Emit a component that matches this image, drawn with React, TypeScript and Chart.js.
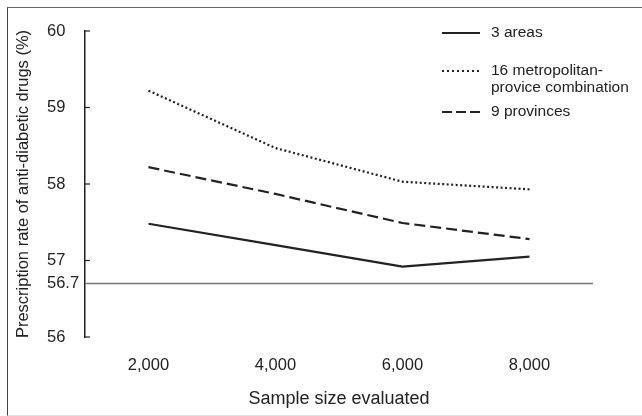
import React, { useEffect, useRef } from 'react';
import { Chart, registerables } from 'chart.js';

Chart.register(...registerables);

const sampleSizes = [2000, 4000, 6000, 8000];
const threeAreas = [57.48, 57.2, 56.92, 57.05];
const metroProvince = [59.22, 58.47, 58.03, 57.93];
const nineProvinces = [58.22, 57.87, 57.49, 57.28];
const yTickValues = [56, 56.7, 57, 58, 59, 60];
const yTickMarks = [56, 56.7, 57, 58, 59, 60];
const xTickValues = [2000, 4000, 6000, 8000];
const referenceValue = 56.7;
const seriesLabels = ['3 areas', '16 metropolitan-\nprovice combination', '9 provinces'];

const FONT = '"Liberation Sans", Arial, Helvetica, sans-serif';
const INK = '#222222';

const decorPlugin = {
  id: 'decor',
  beforeDatasetsDraw(chart: any) {
    const { ctx, chartArea, scales } = chart;
    const y = scales.y;
    ctx.save();
    const ry = y.getPixelForValue(referenceValue);
    ctx.strokeStyle = '#777777';
    ctx.lineWidth = 1.6;
    ctx.beginPath();
    ctx.moveTo(chartArea.left, ry);
    ctx.lineTo(chartArea.right, ry);
    ctx.stroke();
    ctx.strokeStyle = INK;
    ctx.lineWidth = 1.2;
    for (const v of yTickMarks) {
      if (v === referenceValue) continue;
      const py = y.getPixelForValue(v);
      ctx.beginPath();
      ctx.moveTo(chartArea.left, py);
      ctx.lineTo(chartArea.left + 5, py);
      ctx.stroke();
    }
    ctx.restore();
  },
  afterDraw(chart: any) {
    const { ctx, chartArea } = chart;
    const lx0 = chartArea.right - 151;
    const lx1 = chartArea.right - 113;
    const tx = chartArea.right - 102;
    const rows = [
      { ds: 0, y: chartArea.top + 2 },
      { ds: 1, y: chartArea.top + 40 },
      { ds: 2, y: chartArea.top + 81 },
    ];
    ctx.save();
    ctx.font = `15.5px ${FONT}`;
    ctx.fillStyle = INK;
    ctx.textBaseline = 'middle';
    ctx.textAlign = 'left';
    for (const r of rows) {
      ctx.strokeStyle = INK;
      ctx.lineWidth = 2;
      ctx.setLineDash(r.ds === 2 ? [10, 4] : r.ds === 1 ? [2, 3] : []);
      ctx.beginPath();
      ctx.moveTo(lx0, r.y);
      ctx.lineTo(lx1, r.y);
      ctx.stroke();
      ctx.setLineDash([]);
      const lines = String(seriesLabels[r.ds]).split('\n');
      lines.forEach((t, i) => ctx.fillText(t, tx, r.y + i * 17));
    }
    ctx.restore();
  },
};

export default function App() {
  const ref = useRef<HTMLCanvasElement | null>(null);

  useEffect(() => {
    if (!ref.current) return;
    const mk = (vals: number[]) => sampleSizes.map((s, i) => ({ x: s, y: vals[i] }));
    const chart = new Chart(ref.current, {
      type: 'line',
      data: {
        datasets: [
          { label: seriesLabels[0], data: mk(threeAreas), borderColor: INK, borderWidth: 2.2, pointRadius: 0, tension: 0, borderDash: [] },
          { label: seriesLabels[1], data: mk(metroProvince), borderColor: INK, borderWidth: 2.2, pointRadius: 0, tension: 0, borderDash: [2, 2.5] },
          { label: seriesLabels[2], data: mk(nineProvinces), borderColor: INK, borderWidth: 2.2, pointRadius: 0, tension: 0, borderDash: [11, 5] },
        ],
      },
      options: {
        responsive: false,
        maintainAspectRatio: false,
        animation: false,
        layout: { padding: { left: 47, top: 31, right: 49, bottom: 0 } },
        plugins: { legend: { display: false }, tooltip: { enabled: false } },
        scales: {
          x: {
            type: 'linear',
            min: 1000,
            max: 9000,
            afterBuildTicks: (s: any) => { s.ticks = xTickValues.map((v) => ({ value: v })); },
            afterFit: (s: any) => { s.height = 79; },
            grid: { display: false, drawTicks: false },
            border: { display: false },
            ticks: {
              padding: 19,
              color: INK,
              font: { family: FONT, size: 16.5 },
              maxRotation: 0,
              callback: (v: any) => Number(v).toLocaleString('en-US'),
            },
            title: {
              display: true,
              text: 'Sample size evaluated',
              color: INK,
              font: { family: FONT, size: 18 },
              padding: { top: 0, bottom: 6 },
            },
          },
          y: {
            type: 'linear',
            min: 56,
            max: 60,
            afterBuildTicks: (s: any) => { s.ticks = yTickValues.map((v) => ({ value: v })); },
            afterFit: (s: any) => { s.width = 38; },
            grid: { display: false, drawTicks: false },
            border: { display: true, color: INK, width: 1.5 },
            ticks: {
              padding: 0,
              crossAlign: 'far',
              color: INK,
              font: { family: FONT, size: 16.5 },
              callback: (v: any) => String(v),
            },
            title: {
              display: true,
              text: 'Prescription rate of anti-diabetic drugs (%)',
              color: INK,
              font: { family: FONT, size: 16.5 },
              padding: { top: -33, bottom: 0 },
            },
          },
        },
      },
      plugins: [decorPlugin],
    } as any);
    return () => chart.destroy();
  }, []);

  return (
    <div style={{ position: 'fixed', left: 0, top: 0, width: 642, height: 416, background: '#fff', overflow: 'hidden' }}>
      <canvas ref={ref} width={642} height={416} style={{ position: 'absolute', left: 0, top: 0, width: 642, height: 416 }} />
      <div
        style={{
          position: 'absolute',
          left: 7,
          top: 7,
          width: 660,
          height: 407,
          borderLeft: '1px solid #444',
          borderTop: '1px solid #666',
          borderBottom: '1px solid #e2e2e2',
          pointerEvents: 'none',
        }}
      />
    </div>
  );
}
